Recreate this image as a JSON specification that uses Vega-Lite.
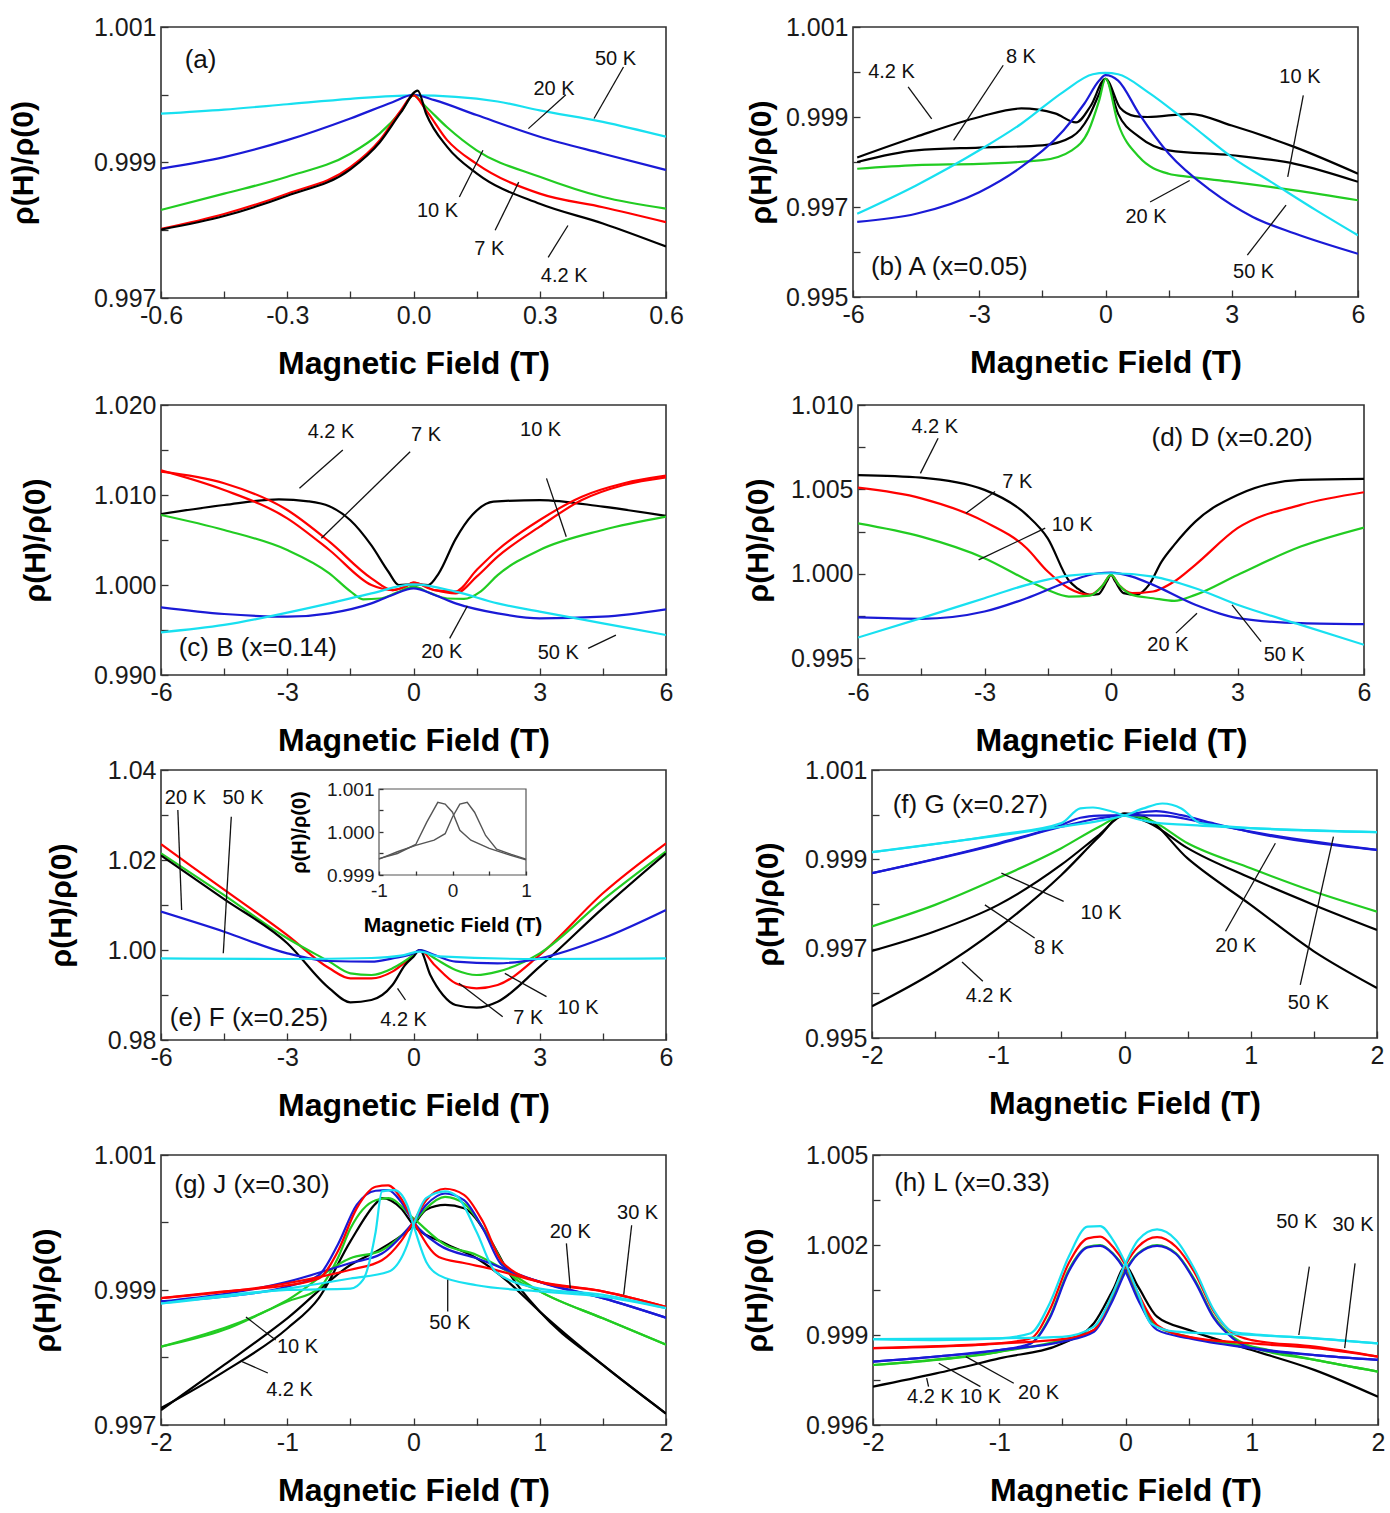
{
  "padding": {"left": 7, "top": 14, "right": 2, "bottom": 0},
  "config": {
    "font": "Liberation Sans",
    "view": {"stroke": "#333333", "strokeWidth": 1.6},
    "axis": {"grid": false, "domain": false, "tickSize": -7, "tickColor": "#333333", "tickWidth": 1.3, "labelFont": "Liberation Sans", "labelFontSize": 25, "labelColor": "#1a1a1a", "labelPadding": 12, "labelFlush": false, "labelOverlap": false, "labelBound": false, "titleFont": "Liberation Sans", "titleFontWeight": "bold", "titleColor": "#000000", "titlePadding": 0},
    "axisX": {"titleFontSize": 32, "minExtent": 50, "maxExtent": 50},
    "axisY": {"titleFontSize": 30},
    "line": {"strokeWidth": 2.2, "interpolate": "monotone"},
    "text": {"font": "Liberation Sans", "color": "#111111"}
  },
  "datasets": {
    "a_curves": [
      {"T":"50 K","H":-0.6,"rho":0.99972},{"T":"50 K","H":-0.45,"rho":0.99978},{"T":"50 K","H":-0.3,"rho":0.99986},{"T":"50 K","H":-0.15,"rho":0.99994},{"T":"50 K","H":0,"rho":0.99999},{"T":"50 K","H":0.1,"rho":0.99997},{"T":"50 K","H":0.2,"rho":0.9999},{"T":"50 K","H":0.3,"rho":0.99977},{"T":"50 K","H":0.45,"rho":0.9996},{"T":"50 K","H":0.6,"rho":0.99938},
      {"T":"20 K","H":-0.6,"rho":0.99891},{"T":"20 K","H":-0.45,"rho":0.99908},{"T":"20 K","H":-0.3,"rho":0.99933},{"T":"20 K","H":-0.15,"rho":0.99965},{"T":"20 K","H":-0.05,"rho":0.99989},{"T":"20 K","H":0,"rho":1.0},{"T":"20 K","H":0.05,"rho":0.99992},{"T":"20 K","H":0.15,"rho":0.9997},{"T":"20 K","H":0.3,"rho":0.99938},{"T":"20 K","H":0.45,"rho":0.99913},{"T":"20 K","H":0.6,"rho":0.99889},
      {"T":"10 K","H":-0.6,"rho":0.9983},{"T":"10 K","H":-0.45,"rho":0.99854},{"T":"10 K","H":-0.3,"rho":0.99879},{"T":"10 K","H":-0.15,"rho":0.99913},{"T":"10 K","H":-0.08,"rho":0.99943},{"T":"10 K","H":-0.03,"rho":0.99975},{"T":"10 K","H":0,"rho":0.99999},{"T":"10 K","H":0.03,"rho":0.99982},{"T":"10 K","H":0.08,"rho":0.99952},{"T":"10 K","H":0.15,"rho":0.99918},{"T":"10 K","H":0.3,"rho":0.99879},{"T":"10 K","H":0.45,"rho":0.99849},{"T":"10 K","H":0.6,"rho":0.99832},
      {"T":"7 K","H":-0.6,"rho":0.99802},{"T":"7 K","H":-0.45,"rho":0.99824},{"T":"7 K","H":-0.3,"rho":0.99854},{"T":"7 K","H":-0.15,"rho":0.99893},{"T":"7 K","H":-0.08,"rho":0.99933},{"T":"7 K","H":-0.03,"rho":0.99977},{"T":"7 K","H":0,"rho":0.99999},{"T":"7 K","H":0.03,"rho":0.99977},{"T":"7 K","H":0.08,"rho":0.99933},{"T":"7 K","H":0.15,"rho":0.99898},{"T":"7 K","H":0.3,"rho":0.99854},{"T":"7 K","H":0.45,"rho":0.99834},{"T":"7 K","H":0.6,"rho":0.99812},
      {"T":"4.2 K","H":-0.6,"rho":0.99801},{"T":"4.2 K","H":-0.45,"rho":0.99821},{"T":"4.2 K","H":-0.3,"rho":0.99851},{"T":"4.2 K","H":-0.15,"rho":0.9989},{"T":"4.2 K","H":-0.08,"rho":0.9993},{"T":"4.2 K","H":-0.03,"rho":0.99974},{"T":"4.2 K","H":0.01,"rho":1.00006},{"T":"4.2 K","H":0.03,"rho":0.99972},{"T":"4.2 K","H":0.08,"rho":0.99923},{"T":"4.2 K","H":0.15,"rho":0.99884},{"T":"4.2 K","H":0.3,"rho":0.99839},{"T":"4.2 K","H":0.45,"rho":0.9981},{"T":"4.2 K","H":0.6,"rho":0.99776}
    ],
    "a_labels": [
      {"label":"50 K","H":0.48,"rho":1.00053},{"label":"20 K","H":0.334,"rho":1.00009},{"label":"10 K","H":0.057,"rho":0.99828},{"label":"7 K","H":0.18,"rho":0.99773},{"label":"4.2 K","H":0.358,"rho":0.99733}
    ],
    "a_tag": [{"label":"(a)","H":-0.506,"rho":1.00051}],
    "a_leaders": [
      {"H":0.499,"rho":1.00041,"H2":0.429,"rho2":0.99965},{"H":0.362,"rho":1.0,"H2":0.273,"rho2":0.9995},{"H":0.109,"rho":0.99849,"H2":0.165,"rho2":0.99918},{"H":0.194,"rho":0.998,"H2":0.25,"rho2":0.99871},{"H":0.32,"rho":0.9976,"H2":0.367,"rho2":0.99807}
    ],
    "b_curves": [
      {"T":"4.2 K","H":-5.9,"rho":0.9981},{"T":"4.2 K","H":-4.5,"rho":0.99856},{"T":"4.2 K","H":-3,"rho":0.999},{"T":"4.2 K","H":-2,"rho":0.99919},{"T":"4.2 K","H":-1.2,"rho":0.99908},{"T":"4.2 K","H":-0.7,"rho":0.99888},{"T":"4.2 K","H":-0.35,"rho":0.99925},{"T":"4.2 K","H":0,"rho":0.99985},{"T":"4.2 K","H":0.35,"rho":0.9992},{"T":"4.2 K","H":0.7,"rho":0.99902},{"T":"4.2 K","H":1,"rho":0.999},{"T":"4.2 K","H":2,"rho":0.99907},{"T":"4.2 K","H":3,"rho":0.99881},{"T":"4.2 K","H":4.5,"rho":0.99833},{"T":"4.2 K","H":6,"rho":0.99774},
      {"T":"8 K","H":-5.9,"rho":0.998},{"T":"8 K","H":-4.5,"rho":0.99826},{"T":"8 K","H":-3,"rho":0.99832},{"T":"8 K","H":-1.5,"rho":0.99837},{"T":"8 K","H":-0.8,"rho":0.99856},{"T":"8 K","H":-0.4,"rho":0.999},{"T":"8 K","H":-0.15,"rho":0.99952},{"T":"8 K","H":0,"rho":0.99985},{"T":"8 K","H":0.3,"rho":0.99907},{"T":"8 K","H":0.8,"rho":0.99856},{"T":"8 K","H":1.5,"rho":0.99826},{"T":"8 K","H":3,"rho":0.99815},{"T":"8 K","H":4.5,"rho":0.99796},{"T":"8 K","H":6,"rho":0.99756},
      {"T":"10 K","H":-5.9,"rho":0.99785},{"T":"10 K","H":-4.5,"rho":0.99793},{"T":"10 K","H":-3,"rho":0.99796},{"T":"10 K","H":-1.5,"rho":0.99804},{"T":"10 K","H":-0.8,"rho":0.99826},{"T":"10 K","H":-0.4,"rho":0.9987},{"T":"10 K","H":-0.15,"rho":0.99937},{"T":"10 K","H":0,"rho":0.99985},{"T":"10 K","H":0.3,"rho":0.99885},{"T":"10 K","H":0.8,"rho":0.99811},{"T":"10 K","H":1.5,"rho":0.99774},{"T":"10 K","H":2,"rho":0.99767},{"T":"10 K","H":3,"rho":0.99756},{"T":"10 K","H":4.5,"rho":0.99737},{"T":"10 K","H":6,"rho":0.99715},
      {"T":"20 K","H":-5.9,"rho":0.99667},{"T":"20 K","H":-4.5,"rho":0.99685},{"T":"20 K","H":-3,"rho":0.99733},{"T":"20 K","H":-2,"rho":0.99789},{"T":"20 K","H":-1,"rho":0.9987},{"T":"20 K","H":-0.5,"rho":0.9993},{"T":"20 K","H":-0.15,"rho":0.99981},{"T":"20 K","H":0,"rho":0.99993},{"T":"20 K","H":0.3,"rho":0.99981},{"T":"20 K","H":0.8,"rho":0.99907},{"T":"20 K","H":1.5,"rho":0.99819},{"T":"20 K","H":2.5,"rho":0.99737},{"T":"20 K","H":3.5,"rho":0.99678},{"T":"20 K","H":4.5,"rho":0.99641},{"T":"20 K","H":6,"rho":0.99596},
      {"T":"50 K","H":-5.9,"rho":0.99685},{"T":"50 K","H":-4.5,"rho":0.99748},{"T":"50 K","H":-3,"rho":0.99826},{"T":"50 K","H":-2,"rho":0.99885},{"T":"50 K","H":-1,"rho":0.99956},{"T":"50 K","H":-0.3,"rho":0.99995},{"T":"50 K","H":0,"rho":0.99998},{"T":"50 K","H":0.3,"rho":0.99995},{"T":"50 K","H":1,"rho":0.99956},{"T":"50 K","H":2,"rho":0.99885},{"T":"50 K","H":3,"rho":0.99811},{"T":"50 K","H":4,"rho":0.99752},{"T":"50 K","H":5,"rho":0.99693},{"T":"50 K","H":6,"rho":0.99637}
    ],
    "b_labels": [
      {"label":"4.2 K","H":-5.085,"rho":1.0},{"label":"8 K","H":-2.01,"rho":1.00033},{"label":"10 K","H":4.62,"rho":0.99989},{"label":"20 K","H":0.964,"rho":0.99678},{"label":"50 K","H":3.52,"rho":0.99556}
    ],
    "b_tag": [{"label":"(b) A (x=0.05)","H":-3.71,"rho":0.99567}],
    "b_leaders": [
      {"H":-4.69,"rho":0.99967,"H2":-4.13,"rho2":0.99896},{"H":-2.43,"rho":1.00015,"H2":-3.61,"rho2":0.99848},{"H":4.7,"rho":0.99948,"H2":4.33,"rho2":0.99767},{"H":1.06,"rho":0.99711,"H2":2.0,"rho2":0.99759},{"H":3.37,"rho":0.99593,"H2":4.29,"rho2":0.99704}
    ],
    "c_curves": [
      {"T":"4.2 K","H":-6,"rho":1.00789},{"T":"4.2 K","H":-4.5,"rho":1.00889},{"T":"4.2 K","H":-3.2,"rho":1.00952},{"T":"4.2 K","H":-2.5,"rho":1.0093},{"T":"4.2 K","H":-2,"rho":1.00875},{"T":"4.2 K","H":-1.5,"rho":1.0072},{"T":"4.2 K","H":-1,"rho":1.0044},{"T":"4.2 K","H":-0.6,"rho":1.0015},{"T":"4.2 K","H":-0.35,"rho":1.0},{"T":"4.2 K","H":0,"rho":1.00007},{"T":"4.2 K","H":0.35,"rho":1.0},{"T":"4.2 K","H":0.6,"rho":1.0013},{"T":"4.2 K","H":1,"rho":1.0051},{"T":"4.2 K","H":1.4,"rho":1.0078},{"T":"4.2 K","H":1.9,"rho":1.00926},{"T":"4.2 K","H":3,"rho":1.00944},{"T":"4.2 K","H":4.5,"rho":1.0087},{"T":"4.2 K","H":6,"rho":1.00767},
      {"T":"7 K","sweep":1,"H":-6,"rho":1.01259},{"T":"7 K","sweep":1,"H":-4.5,"rho":1.0113},{"T":"7 K","sweep":1,"H":-3,"rho":1.00833},{"T":"7 K","sweep":1,"H":-2,"rho":1.00481},{"T":"7 K","sweep":1,"H":-1,"rho":1.00074},{"T":"7 K","sweep":1,"H":-0.5,"rho":0.99944},{"T":"7 K","sweep":1,"H":-0.2,"rho":0.99981},{"T":"7 K","sweep":1,"H":0,"rho":1.00026},{"T":"7 K","sweep":1,"H":0.5,"rho":0.99944},{"T":"7 K","sweep":1,"H":1,"rho":0.99907},{"T":"7 K","sweep":1,"H":1.5,"rho":1.00093},{"T":"7 K","sweep":1,"H":2,"rho":1.00315},{"T":"7 K","sweep":1,"H":3,"rho":1.00648},{"T":"7 K","sweep":1,"H":4,"rho":1.00944},{"T":"7 K","sweep":1,"H":5,"rho":1.01111},{"T":"7 K","sweep":1,"H":6,"rho":1.01196},
      {"T":"7 K","sweep":2,"H":-6,"rho":1.01275},{"T":"7 K","sweep":2,"H":-4.5,"rho":1.01056},{"T":"7 K","sweep":2,"H":-3,"rho":1.00741},{"T":"7 K","sweep":2,"H":-2,"rho":1.00389},{"T":"7 K","sweep":2,"H":-1,"rho":1.0},{"T":"7 K","sweep":2,"H":-0.5,"rho":0.99944},{"T":"7 K","sweep":2,"H":-0.2,"rho":0.99981},{"T":"7 K","sweep":2,"H":0,"rho":1.00026},{"T":"7 K","sweep":2,"H":0.5,"rho":0.99944},{"T":"7 K","sweep":2,"H":1,"rho":0.9993},{"T":"7 K","sweep":2,"H":1.5,"rho":1.00167},{"T":"7 K","sweep":2,"H":2,"rho":1.00389},{"T":"7 K","sweep":2,"H":3,"rho":1.00722},{"T":"7 K","sweep":2,"H":4,"rho":1.00981},{"T":"7 K","sweep":2,"H":5,"rho":1.0113},{"T":"7 K","sweep":2,"H":6,"rho":1.01215},
      {"T":"10 K","H":-6,"rho":1.00778},{"T":"10 K","H":-4.5,"rho":1.00611},{"T":"10 K","H":-3,"rho":1.00389},{"T":"10 K","H":-2,"rho":1.0013},{"T":"10 K","H":-1.5,"rho":0.9993},{"T":"10 K","H":-1.2,"rho":0.99841},{"T":"10 K","H":-0.8,"rho":0.9985},{"T":"10 K","H":-0.4,"rho":0.99915},{"T":"10 K","H":0,"rho":0.99981},{"T":"10 K","H":0.4,"rho":0.9991},{"T":"10 K","H":0.8,"rho":0.9985},{"T":"10 K","H":1.2,"rho":0.99845},{"T":"10 K","H":1.6,"rho":0.9993},{"T":"10 K","H":2,"rho":1.0011},{"T":"10 K","H":3,"rho":1.00389},{"T":"10 K","H":4.5,"rho":1.00611},{"T":"10 K","H":6,"rho":1.00759},
      {"T":"20 K","H":-6,"rho":0.99752},{"T":"20 K","H":-4.5,"rho":0.99678},{"T":"20 K","H":-3,"rho":0.99648},{"T":"20 K","H":-2,"rho":0.99685},{"T":"20 K","H":-1,"rho":0.99796},{"T":"20 K","H":-0.5,"rho":0.99889},{"T":"20 K","H":0,"rho":0.99963},{"T":"20 K","H":0.5,"rho":0.99889},{"T":"20 K","H":1,"rho":0.99796},{"T":"20 K","H":2,"rho":0.99685},{"T":"20 K","H":3,"rho":0.9963},{"T":"20 K","H":4.5,"rho":0.99648},{"T":"20 K","H":6,"rho":0.9973},
      {"T":"50 K","H":-6,"rho":0.99474},{"T":"50 K","H":-4.5,"rho":0.99556},{"T":"50 K","H":-3,"rho":0.99693},{"T":"50 K","H":-2,"rho":0.99796},{"T":"50 K","H":-1,"rho":0.99907},{"T":"50 K","H":0,"rho":1.00007},{"T":"50 K","H":1,"rho":0.99926},{"T":"50 K","H":2,"rho":0.99796},{"T":"50 K","H":3,"rho":0.99704},{"T":"50 K","H":4.5,"rho":0.99574},{"T":"50 K","H":6,"rho":0.99444}
    ],
    "c_labels": [
      {"label":"4.2 K","H":-1.96,"rho":1.01704},{"label":"7 K","H":0.3,"rho":1.01667},{"label":"10 K","H":3.02,"rho":1.01722},{"label":"20 K","H":0.672,"rho":0.99259},{"label":"50 K","H":3.44,"rho":0.99241}
    ],
    "c_tag": [{"label":"(c) B (x=0.14)","H":-3.7,"rho":0.99296}],
    "c_leaders": [
      {"H":-1.68,"rho":1.015,"H2":-2.71,"rho2":1.01074},{"H":-0.08,"rho":1.01481,"H2":-2.19,"rho2":1.00519},{"H":3.16,"rho":1.01185,"H2":3.63,"rho2":1.00537},{"H":1.28,"rho":0.99767,"H2":0.86,"rho2":0.99407},{"H":4.15,"rho":0.99296,"H2":4.81,"rho2":0.99444}
    ],
    "d_curves": [
      {"T":"4.2 K","H":-6,"rho":1.00585},{"T":"4.2 K","H":-4.5,"rho":1.0057},{"T":"4.2 K","H":-3,"rho":1.00497},{"T":"4.2 K","H":-2,"rho":1.00349},{"T":"4.2 K","H":-1.5,"rho":1.0021},{"T":"4.2 K","H":-1,"rho":0.9996},{"T":"4.2 K","H":-0.8,"rho":0.99914},{"T":"4.2 K","H":-0.5,"rho":0.99875},{"T":"4.2 K","H":-0.3,"rho":0.99879},{"T":"4.2 K","H":-0.1,"rho":0.99954},{"T":"4.2 K","H":0,"rho":0.99993},{"T":"4.2 K","H":0.1,"rho":0.99954},{"T":"4.2 K","H":0.3,"rho":0.99885},{"T":"4.2 K","H":0.6,"rho":0.99875},{"T":"4.2 K","H":0.9,"rho":0.99934},{"T":"4.2 K","H":1.2,"rho":1.00072},{"T":"4.2 K","H":1.5,"rho":1.00171},{"T":"4.2 K","H":2,"rho":1.00309},{"T":"4.2 K","H":3,"rho":1.00467},{"T":"4.2 K","H":4.5,"rho":1.00556},{"T":"4.2 K","H":6,"rho":1.00562},
      {"T":"7 K","H":-6,"rho":1.0051},{"T":"7 K","H":-4.5,"rho":1.00447},{"T":"7 K","H":-3,"rho":1.00309},{"T":"7 K","H":-2,"rho":1.00151},{"T":"7 K","H":-1.5,"rho":1.00013},{"T":"7 K","H":-1,"rho":0.99914},{"T":"7 K","H":-0.5,"rho":0.99875},{"T":"7 K","H":-0.2,"rho":0.9993},{"T":"7 K","H":0,"rho":0.99993},{"T":"7 K","H":0.2,"rho":0.9993},{"T":"7 K","H":0.5,"rho":0.99885},{"T":"7 K","H":1,"rho":0.99895},{"T":"7 K","H":1.5,"rho":0.99954},{"T":"7 K","H":2,"rho":1.00053},{"T":"7 K","H":3,"rho":1.0027},{"T":"7 K","H":4.5,"rho":1.00408},{"T":"7 K","H":6,"rho":1.00483},
      {"T":"10 K","H":-6,"rho":1.00299},{"T":"10 K","H":-4.5,"rho":1.0022},{"T":"10 K","H":-3,"rho":1.00092},{"T":"10 K","H":-2,"rho":0.99964},{"T":"10 K","H":-1.5,"rho":0.99904},{"T":"10 K","H":-1,"rho":0.99865},{"T":"10 K","H":-0.5,"rho":0.9987},{"T":"10 K","H":-0.2,"rho":0.9993},{"T":"10 K","H":0,"rho":0.99993},{"T":"10 K","H":0.2,"rho":0.9993},{"T":"10 K","H":0.5,"rho":0.99875},{"T":"10 K","H":1,"rho":0.99855},{"T":"10 K","H":1.5,"rho":0.99839},{"T":"10 K","H":2,"rho":0.99875},{"T":"10 K","H":3,"rho":0.99993},{"T":"10 K","H":4.5,"rho":1.00161},{"T":"10 K","H":6,"rho":1.00274},
      {"T":"20 K","H":-6,"rho":0.99741},{"T":"20 K","H":-4.5,"rho":0.99733},{"T":"20 K","H":-3,"rho":0.99776},{"T":"20 K","H":-2,"rho":0.99855},{"T":"20 K","H":-1,"rho":0.99954},{"T":"20 K","H":-0.3,"rho":1.00003},{"T":"20 K","H":0,"rho":1.00007},{"T":"20 K","H":0.5,"rho":0.99983},{"T":"20 K","H":1,"rho":0.99934},{"T":"20 K","H":2,"rho":0.99816},{"T":"20 K","H":3,"rho":0.99737},{"T":"20 K","H":4.5,"rho":0.99707},{"T":"20 K","H":6,"rho":0.99701},
      {"T":"50 K","H":-6,"rho":0.99622},{"T":"50 K","H":-4.5,"rho":0.99737},{"T":"50 K","H":-3,"rho":0.99855},{"T":"50 K","H":-2,"rho":0.99934},{"T":"50 K","H":-1,"rho":0.99989},{"T":"50 K","H":0,"rho":1.00003},{"T":"50 K","H":1,"rho":0.99983},{"T":"50 K","H":2,"rho":0.99914},{"T":"50 K","H":3,"rho":0.99816},{"T":"50 K","H":4.5,"rho":0.99697},{"T":"50 K","H":6,"rho":0.99579}
    ],
    "d_labels": [
      {"label":"4.2 K","H":-4.18,"rho":1.00872},{"label":"7 K","H":-2.22,"rho":1.00546},{"label":"10 K","H":-0.92,"rho":1.00289},{"label":"20 K","H":1.35,"rho":0.99579},{"label":"50 K","H":4.11,"rho":0.9952}
    ],
    "d_tag": [{"label":"(d) D (x=0.20)","H":2.87,"rho":1.00803}],
    "d_leaders": [
      {"H":-4.1,"rho":1.00803,"H2":-4.52,"rho2":1.00595},{"H":-2.75,"rho":1.00487,"H2":-3.44,"rho2":1.00358},{"H":-1.56,"rho":1.0027,"H2":-3.14,"rho2":1.00082},{"H":1.54,"rho":0.99648,"H2":2.04,"rho2":0.99766},{"H":3.56,"rho":0.99598,"H2":2.87,"rho2":0.99816}
    ],
    "e_curves": [
      {"T":"7 K","H":-6,"rho":1.0235},{"T":"7 K","H":-4.5,"rho":1.0134},{"T":"7 K","H":-3,"rho":1.0033},{"T":"7 K","H":-2,"rho":0.99593},{"T":"7 K","H":-1.5,"rho":0.9937},{"T":"7 K","H":-1,"rho":0.9937},{"T":"7 K","H":-0.5,"rho":0.99519},{"T":"7 K","H":0,"rho":0.99889},{"T":"7 K","H":0.15,"rho":1.0},{"T":"7 K","H":0.5,"rho":0.99667},{"T":"7 K","H":1,"rho":0.99259},{"T":"7 K","H":1.5,"rho":0.99148},{"T":"7 K","H":2,"rho":0.99222},{"T":"7 K","H":3,"rho":0.99889},{"T":"7 K","H":4.5,"rho":1.0126},{"T":"7 K","H":6,"rho":1.0237},
      {"T":"10 K","H":-6,"rho":1.0215},{"T":"10 K","H":-4.5,"rho":1.0122},{"T":"10 K","H":-3,"rho":1.0026},{"T":"10 K","H":-2,"rho":0.99741},{"T":"10 K","H":-1.5,"rho":0.99482},{"T":"10 K","H":-1,"rho":0.99444},{"T":"10 K","H":-0.5,"rho":0.99593},{"T":"10 K","H":0,"rho":0.99889},{"T":"10 K","H":0.15,"rho":1.0},{"T":"10 K","H":0.5,"rho":0.99815},{"T":"10 K","H":1,"rho":0.99556},{"T":"10 K","H":1.5,"rho":0.99444},{"T":"10 K","H":2,"rho":0.99519},{"T":"10 K","H":3,"rho":0.99926},{"T":"10 K","H":4.5,"rho":1.0111},{"T":"10 K","H":6,"rho":1.0219},
      {"T":"4.2 K","H":-6,"rho":1.021},{"T":"4.2 K","H":-4.5,"rho":1.0113},{"T":"4.2 K","H":-3,"rho":1.0015},{"T":"4.2 K","H":-2,"rho":0.99148},{"T":"4.2 K","H":-1.5,"rho":0.98837},{"T":"4.2 K","H":-1,"rho":0.98889},{"T":"4.2 K","H":-0.5,"rho":0.99222},{"T":"4.2 K","H":-0.2,"rho":0.99667},{"T":"4.2 K","H":0,"rho":0.99852},{"T":"4.2 K","H":0.15,"rho":1.0},{"T":"4.2 K","H":0.4,"rho":0.99444},{"T":"4.2 K","H":0.7,"rho":0.99},{"T":"4.2 K","H":1,"rho":0.98778},{"T":"4.2 K","H":1.5,"rho":0.98719},{"T":"4.2 K","H":2,"rho":0.98852},{"T":"4.2 K","H":3,"rho":0.9963},{"T":"4.2 K","H":4.5,"rho":1.0093},{"T":"4.2 K","H":6,"rho":1.0215},
      {"T":"20 K","H":-6,"rho":1.00852},{"T":"20 K","H":-4.5,"rho":1.00407},{"T":"20 K","H":-3,"rho":0.99926},{"T":"20 K","H":-2,"rho":0.99756},{"T":"20 K","H":-1,"rho":0.99741},{"T":"20 K","H":-0.5,"rho":0.99815},{"T":"20 K","H":0,"rho":0.99926},{"T":"20 K","H":0.15,"rho":1.0},{"T":"20 K","H":0.5,"rho":0.99889},{"T":"20 K","H":1,"rho":0.99741},{"T":"20 K","H":2,"rho":0.99704},{"T":"20 K","H":3,"rho":0.99815},{"T":"20 K","H":4.5,"rho":1.0026},{"T":"20 K","H":6,"rho":1.00889},
      {"T":"50 K","H":-6,"rho":0.99815},{"T":"50 K","H":-3,"rho":0.998},{"T":"50 K","H":-1,"rho":0.99822},{"T":"50 K","H":-0.3,"rho":0.99874},{"T":"50 K","H":0.15,"rho":0.99963},{"T":"50 K","H":0.6,"rho":0.99859},{"T":"50 K","H":3,"rho":0.998},{"T":"50 K","H":6,"rho":0.99815}
    ],
    "e_labels": [
      {"label":"20 K","H":-5.42,"rho":1.0337},{"label":"50 K","H":-4.05,"rho":1.0337},{"label":"4.2 K","H":-0.236,"rho":0.98444},{"label":"7 K","H":2.73,"rho":0.98481},{"label":"10 K","H":3.91,"rho":0.98704}
    ],
    "e_tag": [{"label":"(e) F (x=0.25)","H":-3.91,"rho":0.98481}],
    "e_leaders": [
      {"H":-5.6,"rho":1.03111,"H2":-5.51,"rho2":1.00889},{"H":-4.33,"rho":1.02963,"H2":-4.52,"rho2":0.99926},{"H":-0.19,"rho":0.98889,"H2":-0.38,"rho2":0.99148},{"H":2.12,"rho":0.98519,"H2":1.08,"rho2":0.99259},{"H":3.16,"rho":0.98963,"H2":2.17,"rho2":0.99481}
    ],
    "e_inset": [
      {"sweep":1,"H":-1,"rho":0.99938},{"sweep":1,"H":-0.75,"rho":0.9995},{"sweep":1,"H":-0.5,"rho":0.99971},{"sweep":1,"H":-0.35,"rho":1.00023},{"sweep":1,"H":-0.2,"rho":1.00069},{"sweep":1,"H":-0.1,"rho":1.00065},{"sweep":1,"H":0,"rho":1.00046},{"sweep":1,"H":0.1,"rho":1.00004},{"sweep":1,"H":0.25,"rho":0.99981},{"sweep":1,"H":0.5,"rho":0.99962},{"sweep":1,"H":0.75,"rho":0.99948},{"sweep":1,"H":1,"rho":0.99935},
      {"sweep":2,"H":-1,"rho":0.99937},{"sweep":2,"H":-0.75,"rho":0.99954},{"sweep":2,"H":-0.5,"rho":0.99969},{"sweep":2,"H":-0.25,"rho":0.99981},{"sweep":2,"H":-0.1,"rho":0.99996},{"sweep":2,"H":0,"rho":1.00035},{"sweep":2,"H":0.1,"rho":1.00065},{"sweep":2,"H":0.2,"rho":1.00069},{"sweep":2,"H":0.3,"rho":1.00046},{"sweep":2,"H":0.45,"rho":0.99992},{"sweep":2,"H":0.6,"rho":0.9996},{"sweep":2,"H":0.8,"rho":0.99948},{"sweep":2,"H":1,"rho":0.99937}
    ],
    "e_inset_box": [{"H":-1,"H2":1,"rho":0.999,"rho2":1.001}],
    "f_curves": [
      {"T":"4.2 K","H":-2,"rho":0.99571},{"T":"4.2 K","H":-1.5,"rho":0.99649},{"T":"4.2 K","H":-1,"rho":0.99746},{"T":"4.2 K","H":-0.5,"rho":0.99865},{"T":"4.2 K","H":-0.2,"rho":0.99951},{"T":"4.2 K","H":0,"rho":1.00003},{"T":"4.2 K","H":0.15,"rho":0.99996},{"T":"4.2 K","H":0.5,"rho":0.99902},{"T":"4.2 K","H":1,"rho":0.99798},{"T":"4.2 K","H":1.5,"rho":0.99694},{"T":"4.2 K","H":2,"rho":0.99612},
      {"T":"8 K","H":-2,"rho":0.99695},{"T":"8 K","H":-1.5,"rho":0.99739},{"T":"8 K","H":-1,"rho":0.99798},{"T":"8 K","H":-0.5,"rho":0.99888},{"T":"8 K","H":-0.2,"rho":0.99955},{"T":"8 K","H":0,"rho":0.99999},{"T":"8 K","H":0.2,"rho":0.99981},{"T":"8 K","H":0.5,"rho":0.99925},{"T":"8 K","H":1,"rho":0.99858},{"T":"8 K","H":1.5,"rho":0.99798},{"T":"8 K","H":2,"rho":0.99742},
      {"T":"10 K","H":-2,"rho":0.9975},{"T":"10 K","H":-1.5,"rho":0.99798},{"T":"10 K","H":-1,"rho":0.99858},{"T":"10 K","H":-0.5,"rho":0.99925},{"T":"10 K","H":-0.2,"rho":0.99973},{"T":"10 K","H":0,"rho":0.99999},{"T":"10 K","H":0.2,"rho":0.99988},{"T":"10 K","H":0.5,"rho":0.99936},{"T":"10 K","H":1,"rho":0.9988},{"T":"10 K","H":1.5,"rho":0.99828},{"T":"10 K","H":2,"rho":0.99783},
      {"T":"20 K","sweep":1,"H":-2,"rho":0.99869},{"T":"20 K","sweep":1,"H":-1,"rho":0.99936},{"T":"20 K","sweep":1,"H":-0.5,"rho":0.99977},{"T":"20 K","sweep":1,"H":-0.35,"rho":0.99993},{"T":"20 K","sweep":1,"H":-0.2,"rho":0.99998},{"T":"20 K","sweep":1,"H":0,"rho":0.99999},{"T":"20 K","sweep":1,"H":0.3,"rho":0.99998},{"T":"20 K","sweep":1,"H":0.6,"rho":0.99984},{"T":"20 K","sweep":1,"H":1,"rho":0.99962},{"T":"20 K","sweep":1,"H":2,"rho":0.99921},
      {"T":"20 K","sweep":2,"H":-2,"rho":0.99869},{"T":"20 K","sweep":2,"H":-1,"rho":0.99934},{"T":"20 K","sweep":2,"H":-0.5,"rho":0.99973},{"T":"20 K","sweep":2,"H":-0.2,"rho":0.99992},{"T":"20 K","sweep":2,"H":0,"rho":0.99999},{"T":"20 K","sweep":2,"H":0.25,"rho":1.00008},{"T":"20 K","sweep":2,"H":0.45,"rho":0.99999},{"T":"20 K","sweep":2,"H":0.7,"rho":0.99981},{"T":"20 K","sweep":2,"H":1,"rho":0.99961},{"T":"20 K","sweep":2,"H":2,"rho":0.99921},
      {"T":"50 K","sweep":1,"H":-2,"rho":0.99916},{"T":"50 K","sweep":1,"H":-1,"rho":0.99955},{"T":"50 K","sweep":1,"H":-0.5,"rho":0.99981},{"T":"50 K","sweep":1,"H":-0.35,"rho":1.00014},{"T":"50 K","sweep":1,"H":-0.25,"rho":1.00016},{"T":"50 K","sweep":1,"H":-0.1,"rho":1.00007},{"T":"50 K","sweep":1,"H":0,"rho":0.99998},{"T":"50 K","sweep":1,"H":0.2,"rho":0.99984},{"T":"50 K","sweep":1,"H":0.5,"rho":0.99977},{"T":"50 K","sweep":1,"H":1,"rho":0.9997},{"T":"50 K","sweep":1,"H":2,"rho":0.99961},
      {"T":"50 K","sweep":2,"H":-2,"rho":0.99916},{"T":"50 K","sweep":2,"H":-1,"rho":0.99953},{"T":"50 K","sweep":2,"H":-0.5,"rho":0.99973},{"T":"50 K","sweep":2,"H":-0.2,"rho":0.99986},{"T":"50 K","sweep":2,"H":0,"rho":0.99998},{"T":"50 K","sweep":2,"H":0.15,"rho":1.00014},{"T":"50 K","sweep":2,"H":0.3,"rho":1.00025},{"T":"50 K","sweep":2,"H":0.45,"rho":1.00014},{"T":"50 K","sweep":2,"H":0.6,"rho":0.99981},{"T":"50 K","sweep":2,"H":1,"rho":0.9997},{"T":"50 K","sweep":2,"H":2,"rho":0.99961}
    ],
    "f_labels": [
      {"label":"10 K","H":-0.186,"rho":0.9978},{"label":"8 K","H":-0.597,"rho":0.99701},{"label":"4.2 K","H":-1.073,"rho":0.99593},{"label":"20 K","H":0.882,"rho":0.99705},{"label":"50 K","H":1.457,"rho":0.99578}
    ],
    "f_tag": [{"label":"(f) G (x=0.27)","H":-1.221,"rho":1.00022}],
    "f_leaders": [
      {"H":-0.482,"rho":0.99806,"H2":-0.975,"rho2":0.99869},{"H":-0.712,"rho":0.99724,"H2":-1.106,"rho2":0.99798},{"H":-1.122,"rho":0.99627,"H2":-1.287,"rho2":0.9967},{"H":0.8,"rho":0.99739,"H2":1.195,"rho2":0.99936},{"H":1.392,"rho":0.99619,"H2":1.655,"rho2":0.99951}
    ],
    "g_curves": [
      {"T":"4.2 K","sweep":1,"H":-2,"rho":0.99725},{"T":"4.2 K","sweep":1,"H":-1.5,"rho":0.99779},{"T":"4.2 K","sweep":1,"H":-1,"rho":0.99843},{"T":"4.2 K","sweep":1,"H":-0.75,"rho":0.99888},{"T":"4.2 K","sweep":1,"H":-0.5,"rho":0.99972},{"T":"4.2 K","sweep":1,"H":-0.3,"rho":1.00028},{"T":"4.2 K","sweep":1,"H":-0.25,"rho":1.00036},{"T":"4.2 K","sweep":1,"H":-0.1,"rho":1.00021},{"T":"4.2 K","sweep":1,"H":0,"rho":0.99996},{"T":"4.2 K","sweep":1,"H":0.25,"rho":0.99969},{"T":"4.2 K","sweep":1,"H":0.5,"rho":0.99947},{"T":"4.2 K","sweep":1,"H":0.75,"rho":0.99912},{"T":"4.2 K","sweep":1,"H":1,"rho":0.99868},{"T":"4.2 K","sweep":1,"H":1.5,"rho":0.99789},{"T":"4.2 K","sweep":1,"H":2,"rho":0.99717},
      {"T":"4.2 K","sweep":2,"H":-2,"rho":0.99722},{"T":"4.2 K","sweep":2,"H":-1.5,"rho":0.99789},{"T":"4.2 K","sweep":2,"H":-1,"rho":0.99858},{"T":"4.2 K","sweep":2,"H":-0.5,"rho":0.99937},{"T":"4.2 K","sweep":2,"H":-0.25,"rho":0.99962},{"T":"4.2 K","sweep":2,"H":0,"rho":0.99996},{"T":"4.2 K","sweep":2,"H":0.1,"rho":1.00019},{"T":"4.2 K","sweep":2,"H":0.25,"rho":1.00026},{"T":"4.2 K","sweep":2,"H":0.4,"rho":1.00021},{"T":"4.2 K","sweep":2,"H":0.6,"rho":0.99977},{"T":"4.2 K","sweep":2,"H":0.75,"rho":0.99927},{"T":"4.2 K","sweep":2,"H":1,"rho":0.99868},{"T":"4.2 K","sweep":2,"H":1.5,"rho":0.99789},{"T":"4.2 K","sweep":2,"H":2,"rho":0.99717},
      {"T":"10 K","sweep":1,"H":-2,"rho":0.99816},{"T":"10 K","sweep":1,"H":-1.5,"rho":0.99841},{"T":"10 K","sweep":1,"H":-1,"rho":0.99883},{"T":"10 K","sweep":1,"H":-0.75,"rho":0.99902},{"T":"10 K","sweep":1,"H":-0.6,"rho":0.99947},{"T":"10 K","sweep":1,"H":-0.5,"rho":0.99991},{"T":"10 K","sweep":1,"H":-0.3,"rho":1.00033},{"T":"10 K","sweep":1,"H":-0.2,"rho":1.00036},{"T":"10 K","sweep":1,"H":0,"rho":1.00006},{"T":"10 K","sweep":1,"H":0.25,"rho":0.99967},{"T":"10 K","sweep":1,"H":0.5,"rho":0.99952},{"T":"10 K","sweep":1,"H":0.75,"rho":0.99927},{"T":"10 K","sweep":1,"H":1,"rho":0.99898},{"T":"10 K","sweep":1,"H":1.5,"rho":0.99858},{"T":"10 K","sweep":1,"H":2,"rho":0.99819},
      {"T":"10 K","sweep":2,"H":-2,"rho":0.99816},{"T":"10 K","sweep":2,"H":-1,"rho":0.99885},{"T":"10 K","sweep":2,"H":-0.5,"rho":0.99947},{"T":"10 K","sweep":2,"H":-0.25,"rho":0.99959},{"T":"10 K","sweep":2,"H":0,"rho":0.99999},{"T":"10 K","sweep":2,"H":0.1,"rho":1.00021},{"T":"10 K","sweep":2,"H":0.25,"rho":1.00038},{"T":"10 K","sweep":2,"H":0.4,"rho":1.00028},{"T":"10 K","sweep":2,"H":0.6,"rho":0.99977},{"T":"10 K","sweep":2,"H":0.75,"rho":0.99927},{"T":"10 K","sweep":2,"H":1,"rho":0.99898},{"T":"10 K","sweep":2,"H":1.5,"rho":0.99858},{"T":"10 K","sweep":2,"H":2,"rho":0.99819},
      {"T":"20 K","sweep":1,"H":-2,"rho":0.99883},{"T":"20 K","sweep":1,"H":-1.5,"rho":0.9989},{"T":"20 K","sweep":1,"H":-1,"rho":0.99905},{"T":"20 K","sweep":1,"H":-0.75,"rho":0.99922},{"T":"20 K","sweep":1,"H":-0.6,"rho":0.99967},{"T":"20 K","sweep":1,"H":-0.45,"rho":1.00026},{"T":"20 K","sweep":1,"H":-0.3,"rho":1.00047},{"T":"20 K","sweep":1,"H":-0.2,"rho":1.00048},{"T":"20 K","sweep":1,"H":-0.1,"rho":1.00031},{"T":"20 K","sweep":1,"H":0,"rho":1.00001},{"T":"20 K","sweep":1,"H":0.2,"rho":0.99967},{"T":"20 K","sweep":1,"H":0.5,"rho":0.99947},{"T":"20 K","sweep":1,"H":1,"rho":0.99912},{"T":"20 K","sweep":1,"H":1.5,"rho":0.99888},{"T":"20 K","sweep":1,"H":2,"rho":0.99859},
      {"T":"20 K","sweep":2,"H":-2,"rho":0.99883},{"T":"20 K","sweep":2,"H":-1,"rho":0.99912},{"T":"20 K","sweep":2,"H":-0.5,"rho":0.9994},{"T":"20 K","sweep":2,"H":-0.25,"rho":0.99954},{"T":"20 K","sweep":2,"H":0,"rho":1.00001},{"T":"20 K","sweep":2,"H":0.1,"rho":1.00026},{"T":"20 K","sweep":2,"H":0.25,"rho":1.00043},{"T":"20 K","sweep":2,"H":0.4,"rho":1.00033},{"T":"20 K","sweep":2,"H":0.55,"rho":0.99991},{"T":"20 K","sweep":2,"H":0.7,"rho":0.99937},{"T":"20 K","sweep":2,"H":1,"rho":0.99912},{"T":"20 K","sweep":2,"H":1.5,"rho":0.99888},{"T":"20 K","sweep":2,"H":2,"rho":0.99859},
      {"T":"30 K","sweep":1,"H":-2,"rho":0.99888},{"T":"30 K","sweep":1,"H":-1.5,"rho":0.99898},{"T":"30 K","sweep":1,"H":-1,"rho":0.99907},{"T":"30 K","sweep":1,"H":-0.75,"rho":0.99917},{"T":"30 K","sweep":1,"H":-0.6,"rho":0.99957},{"T":"30 K","sweep":1,"H":-0.45,"rho":1.00021},{"T":"30 K","sweep":1,"H":-0.3,"rho":1.00053},{"T":"30 K","sweep":1,"H":-0.2,"rho":1.00055},{"T":"30 K","sweep":1,"H":-0.1,"rho":1.00036},{"T":"30 K","sweep":1,"H":0,"rho":1.00001},{"T":"30 K","sweep":1,"H":0.2,"rho":0.99949},{"T":"30 K","sweep":1,"H":0.4,"rho":0.9994},{"T":"30 K","sweep":1,"H":0.6,"rho":0.99932},{"T":"30 K","sweep":1,"H":1,"rho":0.99912},{"T":"30 K","sweep":1,"H":1.5,"rho":0.99898},{"T":"30 K","sweep":1,"H":2,"rho":0.99875},
      {"T":"30 K","sweep":2,"H":-2,"rho":0.99888},{"T":"30 K","sweep":2,"H":-1,"rho":0.9991},{"T":"30 K","sweep":2,"H":-0.5,"rho":0.9993},{"T":"30 K","sweep":2,"H":-0.25,"rho":0.99944},{"T":"30 K","sweep":2,"H":-0.1,"rho":0.99972},{"T":"30 K","sweep":2,"H":0,"rho":1.00001},{"T":"30 K","sweep":2,"H":0.1,"rho":1.00033},{"T":"30 K","sweep":2,"H":0.25,"rho":1.0005},{"T":"30 K","sweep":2,"H":0.4,"rho":1.00041},{"T":"30 K","sweep":2,"H":0.55,"rho":1.00001},{"T":"30 K","sweep":2,"H":0.7,"rho":0.99942},{"T":"30 K","sweep":2,"H":1,"rho":0.99912},{"T":"30 K","sweep":2,"H":1.5,"rho":0.99898},{"T":"30 K","sweep":2,"H":2,"rho":0.99875},
      {"T":"50 K","sweep":1,"H":-2,"rho":0.9988},{"T":"50 K","sweep":1,"H":-1,"rho":0.999},{"T":"50 K","sweep":1,"H":-0.5,"rho":0.99902},{"T":"50 K","sweep":1,"H":-0.4,"rho":0.99915},{"T":"50 K","sweep":1,"H":-0.3,"rho":0.99986},{"T":"50 K","sweep":1,"H":-0.25,"rho":1.00046},{"T":"50 K","sweep":1,"H":-0.15,"rho":1.00048},{"T":"50 K","sweep":1,"H":-0.05,"rho":1.00026},{"T":"50 K","sweep":1,"H":0,"rho":0.99996},{"T":"50 K","sweep":1,"H":0.1,"rho":0.99942},{"T":"50 K","sweep":1,"H":0.2,"rho":0.99922},{"T":"50 K","sweep":1,"H":0.5,"rho":0.99907},{"T":"50 K","sweep":1,"H":1,"rho":0.99898},{"T":"50 K","sweep":1,"H":1.5,"rho":0.9989},{"T":"50 K","sweep":1,"H":2,"rho":0.99873},
      {"T":"50 K","sweep":2,"H":-2,"rho":0.9988},{"T":"50 K","sweep":2,"H":-1,"rho":0.99902},{"T":"50 K","sweep":2,"H":-0.5,"rho":0.99917},{"T":"50 K","sweep":2,"H":-0.2,"rho":0.99927},{"T":"50 K","sweep":2,"H":-0.05,"rho":0.99967},{"T":"50 K","sweep":2,"H":0,"rho":0.99996},{"T":"50 K","sweep":2,"H":0.1,"rho":1.00036},{"T":"50 K","sweep":2,"H":0.25,"rho":1.00046},{"T":"50 K","sweep":2,"H":0.35,"rho":1.00038},{"T":"50 K","sweep":2,"H":0.5,"rho":0.99986},{"T":"50 K","sweep":2,"H":0.65,"rho":0.99927},{"T":"50 K","sweep":2,"H":1,"rho":0.99902},{"T":"50 K","sweep":2,"H":1.5,"rho":0.99893},{"T":"50 K","sweep":2,"H":2,"rho":0.99873}
    ],
    "g_labels": [
      {"label":"30 K","H":1.775,"rho":1.00014},{"label":"20 K","H":1.242,"rho":0.99986},{"label":"50 K","H":0.287,"rho":0.99851},{"label":"10 K","H":-0.919,"rho":0.99816},{"label":"4.2 K","H":-0.982,"rho":0.99752}
    ],
    "g_tag": [{"label":"(g) J (x=0.30)","H":-1.28,"rho":1.00056}],
    "g_leaders": [
      {"H":1.728,"rho":0.99996,"H2":1.665,"rho2":0.99893},{"H":1.211,"rho":0.99969,"H2":1.242,"rho2":0.99902},{"H":0.271,"rho":0.99868,"H2":0.271,"rho2":0.99915},{"H":-1.092,"rho":0.99826,"H2":-1.327,"rho2":0.9986},{"H":-1.154,"rho":0.99777,"H2":-1.358,"rho2":0.99794}
    ],
    "h_curves": [
      {"T":"4.2 K","H":-2,"rho":0.99728},{"T":"4.2 K","H":-1.5,"rho":0.99772},{"T":"4.2 K","H":-1,"rho":0.99822},{"T":"4.2 K","H":-0.5,"rho":0.99872},{"T":"4.2 K","H":-0.25,"rho":0.99939},{"T":"4.2 K","H":-0.1,"rho":1.0005},{"T":"4.2 K","H":0,"rho":1.00128},{"T":"4.2 K","H":0.1,"rho":1.00061},{"T":"4.2 K","H":0.25,"rho":0.99961},{"T":"4.2 K","H":0.5,"rho":0.99917},{"T":"4.2 K","H":1,"rho":0.9985},{"T":"4.2 K","H":1.5,"rho":0.99783},{"T":"4.2 K","H":2,"rho":0.99694},
      {"T":"10 K","sweep":1,"H":-2,"rho":0.998},{"T":"10 K","sweep":1,"H":-1.5,"rho":0.99817},{"T":"10 K","sweep":1,"H":-1,"rho":0.99844},{"T":"10 K","sweep":1,"H":-0.75,"rho":0.99872},{"T":"10 K","sweep":1,"H":-0.6,"rho":0.99961},{"T":"10 K","sweep":1,"H":-0.45,"rho":1.00117},{"T":"10 K","sweep":1,"H":-0.3,"rho":1.00194},{"T":"10 K","sweep":1,"H":-0.2,"rho":1.002},{"T":"10 K","sweep":1,"H":-0.1,"rho":1.00172},{"T":"10 K","sweep":1,"H":0,"rho":1.00117},{"T":"10 K","sweep":1,"H":0.1,"rho":1.00028},{"T":"10 K","sweep":1,"H":0.25,"rho":0.99928},{"T":"10 K","sweep":1,"H":0.5,"rho":0.99894},{"T":"10 K","sweep":1,"H":1,"rho":0.99861},{"T":"10 K","sweep":1,"H":1.5,"rho":0.99817},{"T":"10 K","sweep":1,"H":2,"rho":0.99778},
      {"T":"10 K","sweep":2,"H":-2,"rho":0.998},{"T":"10 K","sweep":2,"H":-1,"rho":0.99844},{"T":"10 K","sweep":2,"H":-0.5,"rho":0.99883},{"T":"10 K","sweep":2,"H":-0.25,"rho":0.99917},{"T":"10 K","sweep":2,"H":-0.1,"rho":1.00028},{"T":"10 K","sweep":2,"H":0,"rho":1.00117},{"T":"10 K","sweep":2,"H":0.1,"rho":1.00172},{"T":"10 K","sweep":2,"H":0.25,"rho":1.002},{"T":"10 K","sweep":2,"H":0.4,"rho":1.00172},{"T":"10 K","sweep":2,"H":0.55,"rho":1.00083},{"T":"10 K","sweep":2,"H":0.7,"rho":0.99961},{"T":"10 K","sweep":2,"H":0.85,"rho":0.99894},{"T":"10 K","sweep":2,"H":1,"rho":0.99861},{"T":"10 K","sweep":2,"H":1.5,"rho":0.99817},{"T":"10 K","sweep":2,"H":2,"rho":0.99778},
      {"T":"20 K","sweep":1,"H":-2,"rho":0.99811},{"T":"20 K","sweep":1,"H":-1.5,"rho":0.99828},{"T":"20 K","sweep":1,"H":-1,"rho":0.9985},{"T":"20 K","sweep":1,"H":-0.75,"rho":0.99872},{"T":"20 K","sweep":1,"H":-0.6,"rho":0.99956},{"T":"20 K","sweep":1,"H":-0.45,"rho":1.00111},{"T":"20 K","sweep":1,"H":-0.3,"rho":1.00192},{"T":"20 K","sweep":1,"H":-0.2,"rho":1.00197},{"T":"20 K","sweep":1,"H":-0.1,"rho":1.0017},{"T":"20 K","sweep":1,"H":0,"rho":1.00111},{"T":"20 K","sweep":1,"H":0.1,"rho":1.00017},{"T":"20 K","sweep":1,"H":0.25,"rho":0.99917},{"T":"20 K","sweep":1,"H":0.5,"rho":0.99889},{"T":"20 K","sweep":1,"H":1,"rho":0.99856},{"T":"20 K","sweep":1,"H":1.5,"rho":0.99833},{"T":"20 K","sweep":1,"H":2,"rho":0.99817},
      {"T":"20 K","sweep":2,"H":-2,"rho":0.99811},{"T":"20 K","sweep":2,"H":-1,"rho":0.9985},{"T":"20 K","sweep":2,"H":-0.5,"rho":0.99878},{"T":"20 K","sweep":2,"H":-0.25,"rho":0.99911},{"T":"20 K","sweep":2,"H":-0.1,"rho":1.00017},{"T":"20 K","sweep":2,"H":0,"rho":1.00111},{"T":"20 K","sweep":2,"H":0.1,"rho":1.0017},{"T":"20 K","sweep":2,"H":0.25,"rho":1.00197},{"T":"20 K","sweep":2,"H":0.4,"rho":1.0017},{"T":"20 K","sweep":2,"H":0.55,"rho":1.00078},{"T":"20 K","sweep":2,"H":0.7,"rho":0.99956},{"T":"20 K","sweep":2,"H":0.85,"rho":0.99889},{"T":"20 K","sweep":2,"H":1,"rho":0.99856},{"T":"20 K","sweep":2,"H":1.5,"rho":0.99833},{"T":"20 K","sweep":2,"H":2,"rho":0.99817},
      {"T":"30 K","sweep":1,"H":-2,"rho":0.99856},{"T":"30 K","sweep":1,"H":-1.5,"rho":0.99861},{"T":"30 K","sweep":1,"H":-1,"rho":0.99872},{"T":"30 K","sweep":1,"H":-0.75,"rho":0.99889},{"T":"30 K","sweep":1,"H":-0.6,"rho":0.99983},{"T":"30 K","sweep":1,"H":-0.45,"rho":1.00139},{"T":"30 K","sweep":1,"H":-0.3,"rho":1.00222},{"T":"30 K","sweep":1,"H":-0.2,"rho":1.00228},{"T":"30 K","sweep":1,"H":-0.1,"rho":1.00194},{"T":"30 K","sweep":1,"H":0,"rho":1.00133},{"T":"30 K","sweep":1,"H":0.1,"rho":1.00039},{"T":"30 K","sweep":1,"H":0.25,"rho":0.99933},{"T":"30 K","sweep":1,"H":0.5,"rho":0.99894},{"T":"30 K","sweep":1,"H":1,"rho":0.99872},{"T":"30 K","sweep":1,"H":1.5,"rho":0.99856},{"T":"30 K","sweep":1,"H":2,"rho":0.99828},
      {"T":"30 K","sweep":2,"H":-2,"rho":0.99856},{"T":"30 K","sweep":2,"H":-1,"rho":0.99872},{"T":"30 K","sweep":2,"H":-0.5,"rho":0.99886},{"T":"30 K","sweep":2,"H":-0.25,"rho":0.99917},{"T":"30 K","sweep":2,"H":-0.1,"rho":1.00039},{"T":"30 K","sweep":2,"H":0,"rho":1.00133},{"T":"30 K","sweep":2,"H":0.1,"rho":1.00194},{"T":"30 K","sweep":2,"H":0.25,"rho":1.00226},{"T":"30 K","sweep":2,"H":0.4,"rho":1.00194},{"T":"30 K","sweep":2,"H":0.55,"rho":1.00106},{"T":"30 K","sweep":2,"H":0.7,"rho":0.99978},{"T":"30 K","sweep":2,"H":0.85,"rho":0.99906},{"T":"30 K","sweep":2,"H":1,"rho":0.99883},{"T":"30 K","sweep":2,"H":1.5,"rho":0.99861},{"T":"30 K","sweep":2,"H":2,"rho":0.99828},
      {"T":"50 K","sweep":1,"H":-2,"rho":0.99886},{"T":"50 K","sweep":1,"H":-1.5,"rho":0.99883},{"T":"50 K","sweep":1,"H":-1,"rho":0.99889},{"T":"50 K","sweep":1,"H":-0.75,"rho":0.99906},{"T":"50 K","sweep":1,"H":-0.6,"rho":1.00006},{"T":"50 K","sweep":1,"H":-0.45,"rho":1.00161},{"T":"50 K","sweep":1,"H":-0.3,"rho":1.00261},{"T":"50 K","sweep":1,"H":-0.2,"rho":1.00263},{"T":"50 K","sweep":1,"H":-0.1,"rho":1.00217},{"T":"50 K","sweep":1,"H":0,"rho":1.00139},{"T":"50 K","sweep":1,"H":0.1,"rho":1.00039},{"T":"50 K","sweep":1,"H":0.2,"rho":0.99939},{"T":"50 K","sweep":1,"H":0.4,"rho":0.99911},{"T":"50 K","sweep":1,"H":1,"rho":0.999},{"T":"50 K","sweep":1,"H":1.5,"rho":0.99889},{"T":"50 K","sweep":1,"H":2,"rho":0.99872},
      {"T":"50 K","sweep":2,"H":-2,"rho":0.99886},{"T":"50 K","sweep":2,"H":-1,"rho":0.99889},{"T":"50 K","sweep":2,"H":-0.5,"rho":0.99894},{"T":"50 K","sweep":2,"H":-0.25,"rho":0.99928},{"T":"50 K","sweep":2,"H":-0.1,"rho":1.00039},{"T":"50 K","sweep":2,"H":0,"rho":1.00139},{"T":"50 K","sweep":2,"H":0.1,"rho":1.00217},{"T":"50 K","sweep":2,"H":0.25,"rho":1.00252},{"T":"50 K","sweep":2,"H":0.4,"rho":1.00217},{"T":"50 K","sweep":2,"H":0.55,"rho":1.00117},{"T":"50 K","sweep":2,"H":0.7,"rho":0.99983},{"T":"50 K","sweep":2,"H":0.85,"rho":0.99911},{"T":"50 K","sweep":2,"H":1,"rho":0.99903},{"T":"50 K","sweep":2,"H":1.5,"rho":0.99889},{"T":"50 K","sweep":2,"H":2,"rho":0.99872}
    ],
    "h_labels": [
      {"label":"50 K","H":1.357,"rho":1.00278},{"label":"30 K","H":1.802,"rho":1.00267},{"label":"4.2 K","H":-1.545,"rho":0.99694},{"label":"10 K","H":-1.149,"rho":0.99694},{"label":"20 K","H":-0.688,"rho":0.99706}
    ],
    "h_tag": [{"label":"(h) L (x=0.33)","H":-1.215,"rho":1.00406}],
    "h_leaders": [
      {"H":1.456,"rho":1.00128,"H2":1.373,"rho2":0.999},{"H":1.818,"rho":1.00139,"H2":1.736,"rho2":0.99856},{"H":-1.149,"rho":0.99728,"H2":-1.479,"rho2":0.99806},{"H":-0.885,"rho":0.99739,"H2":-1.265,"rho2":0.99828},{"H":-1.56,"rho":0.99728,"H2":-1.575,"rho2":0.99756}
    ]
  },
  "spacing": 0,
  "vconcat": [
    {
      "spacing": 12,
      "vconcat": [
        {
          "spacing": 60,
          "hconcat": [
            {
              "width": 505, "height": 271,
              "encoding": {
                "x": {"field": "H", "type": "quantitative", "scale": {"domain": [-0.6, 0.6], "nice": false, "zero": false}, "axis": {"title": "Magnetic Field (T)", "values": [-0.6, -0.45, -0.3, -0.15, 0, 0.15, 0.3, 0.45, 0.6], "labelExpr": "round(datum.value*100) % 30 == 0 ? replace(format(datum.value, '.1f'), '\u2212', '-') : ''"}},
                "y": {"field": "rho", "type": "quantitative", "scale": {"domain": [0.997, 1.001], "nice": false, "zero": false}, "axis": {"title": "ρ(H)/ρ(0)", "values": [0.997, 0.998, 0.999, 1.0, 1.001], "labelExpr": "round(datum.value*1000) % 2 == 1 ? format(datum.value, '.3f') : ''", "minExtent": 123, "maxExtent": 123}}
              },
              "layer": [
                {"data": {"name": "a_curves"}, "mark": {"type": "line", "clip": true}, "encoding": {"color": {"field": "T", "type": "nominal", "scale": {"domain": ["4.2 K", "7 K", "10 K", "20 K", "50 K"], "range": ["#000000", "#ff0000", "#22cc22", "#1a1ad6", "#18e0f0"]}, "legend": null}}},
                {"data": {"name": "a_leaders"}, "mark": {"type": "rule", "color": "#111111", "strokeWidth": 1.3}, "encoding": {"x2": {"field": "H2"}, "y2": {"field": "rho2"}}},
                {"data": {"name": "a_labels"}, "mark": {"type": "text", "fontSize": 20}, "encoding": {"text": {"field": "label"}}},
                {"data": {"name": "a_tag"}, "mark": {"type": "text", "fontSize": 26}, "encoding": {"text": {"field": "label"}}}
              ]
            },
            {
              "width": 505, "height": 270,
              "encoding": {
                "x": {"field": "H", "type": "quantitative", "scale": {"domain": [-6, 6], "nice": false, "zero": false}, "axis": {"title": "Magnetic Field (T)", "values": [-6, -4.5, -3, -1.5, 0, 1.5, 3, 4.5, 6], "labelExpr": "round(datum.value*10) % 30 == 0 ? replace(format(datum.value, 'd'), '\u2212', '-') : ''"}},
                "y": {"field": "rho", "type": "quantitative", "scale": {"domain": [0.995, 1.001], "nice": false, "zero": false}, "axis": {"title": "ρ(H)/ρ(0)", "values": [0.995, 0.996, 0.997, 0.998, 0.999, 1.0, 1.001], "labelExpr": "round(datum.value*1000) % 2 == 1 ? format(datum.value, '.3f') : ''", "minExtent": 77, "maxExtent": 77}}
              },
              "layer": [
                {"data": {"name": "b_curves"}, "mark": {"type": "line", "clip": true}, "encoding": {"color": {"field": "T", "type": "nominal", "scale": {"domain": ["4.2 K", "8 K", "10 K", "20 K", "50 K"], "range": ["#000000", "#ff0000", "#22cc22", "#1a1ad6", "#18e0f0"]}, "legend": null}}},
                {"data": {"name": "b_leaders"}, "mark": {"type": "rule", "color": "#111111", "strokeWidth": 1.3}, "encoding": {"x2": {"field": "H2"}, "y2": {"field": "rho2"}}},
                {"data": {"name": "b_labels"}, "mark": {"type": "text", "fontSize": 20}, "encoding": {"text": {"field": "label"}}},
                {"data": {"name": "b_tag"}, "mark": {"type": "text", "fontSize": 26}, "encoding": {"text": {"field": "label"}}}
              ]
            }
          ]
        },
        {
          "spacing": 68,
          "hconcat": [
            {
              "width": 505, "height": 270,
              "encoding": {
                "x": {"field": "H", "type": "quantitative", "scale": {"domain": [-6, 6], "nice": false, "zero": false}, "axis": {"title": "Magnetic Field (T)", "values": [-6, -4.5, -3, -1.5, 0, 1.5, 3, 4.5, 6], "labelExpr": "round(datum.value*10) % 30 == 0 ? replace(format(datum.value, 'd'), '\u2212', '-') : ''"}},
                "y": {"field": "rho", "type": "quantitative", "scale": {"domain": [0.99, 1.02], "nice": false, "zero": false}, "axis": {"title": "ρ(H)/ρ(0)", "values": [0.99, 0.995, 1.0, 1.005, 1.01, 1.015, 1.02], "labelExpr": "round(datum.value*1000) % 10 == 0 ? format(datum.value, '.3f') : ''", "minExtent": 111, "maxExtent": 111}}
              },
              "layer": [
                {"data": {"name": "c_curves"}, "mark": {"type": "line", "clip": true}, "encoding": {"color": {"field": "T", "type": "nominal", "scale": {"domain": ["4.2 K", "7 K", "10 K", "20 K", "50 K"], "range": ["#000000", "#ff0000", "#22cc22", "#1a1ad6", "#18e0f0"]}, "legend": null}, "detail": {"field": "sweep", "type": "nominal"}}},
                {"data": {"name": "c_leaders"}, "mark": {"type": "rule", "color": "#111111", "strokeWidth": 1.3}, "encoding": {"x2": {"field": "H2"}, "y2": {"field": "rho2"}}},
                {"data": {"name": "c_labels"}, "mark": {"type": "text", "fontSize": 20}, "encoding": {"text": {"field": "label"}}},
                {"data": {"name": "c_tag"}, "mark": {"type": "text", "fontSize": 26}, "encoding": {"text": {"field": "label"}}}
              ]
            },
            {
              "width": 506, "height": 270,
              "encoding": {
                "x": {"field": "H", "type": "quantitative", "scale": {"domain": [-6, 6], "nice": false, "zero": false}, "axis": {"title": "Magnetic Field (T)", "values": [-6, -4.5, -3, -1.5, 0, 1.5, 3, 4.5, 6], "labelExpr": "round(datum.value*10) % 30 == 0 ? replace(format(datum.value, 'd'), '\u2212', '-') : ''"}},
                "y": {"field": "rho", "type": "quantitative", "scale": {"domain": [0.994, 1.01], "nice": false, "zero": false}, "axis": {"title": "ρ(H)/ρ(0)", "values": [0.995, 0.9975, 1.0, 1.0025, 1.005, 1.0075, 1.01], "labelExpr": "round(datum.value*10000) % 50 == 0 ? format(datum.value, '.3f') : ''", "minExtent": 85, "maxExtent": 85}}
              },
              "layer": [
                {"data": {"name": "d_curves"}, "mark": {"type": "line", "clip": true}, "encoding": {"color": {"field": "T", "type": "nominal", "scale": {"domain": ["4.2 K", "7 K", "10 K", "20 K", "50 K"], "range": ["#000000", "#ff0000", "#22cc22", "#1a1ad6", "#18e0f0"]}, "legend": null}}},
                {"data": {"name": "d_leaders"}, "mark": {"type": "rule", "color": "#111111", "strokeWidth": 1.3}, "encoding": {"x2": {"field": "H2"}, "y2": {"field": "rho2"}}},
                {"data": {"name": "d_labels"}, "mark": {"type": "text", "fontSize": 20}, "encoding": {"text": {"field": "label"}}},
                {"data": {"name": "d_tag"}, "mark": {"type": "text", "fontSize": 26}, "encoding": {"text": {"field": "label"}}}
              ]
            }
          ]
        }
      ]
    },
    {
      "spacing": 20,
      "vconcat": [
        {
          "spacing": 78,
          "hconcat": [
            {
              "width": 505, "height": 270,
              "layer": [
                {
                  "encoding": {
                    "x": {"field": "H", "type": "quantitative", "scale": {"domain": [-6, 6], "nice": false, "zero": false}, "axis": {"orient": "bottom", "title": "Magnetic Field (T)", "values": [-6, -4.5, -3, -1.5, 0, 1.5, 3, 4.5, 6], "labelExpr": "round(datum.value*10) % 30 == 0 ? replace(format(datum.value, 'd'), '\u2212', '-') : ''"}},
                    "y": {"field": "rho", "type": "quantitative", "scale": {"domain": [0.98, 1.04], "nice": false, "zero": false}, "axis": {"orient": "left", "title": "ρ(H)/ρ(0)", "values": [0.98, 0.99, 1.0, 1.01, 1.02, 1.03, 1.04], "labelExpr": "round(datum.value*100) % 2 == 0 ? format(datum.value, '.2f') : ''", "minExtent": 85, "maxExtent": 85}}
                  },
                  "layer": [
                    {"data": {"name": "e_curves"}, "mark": {"type": "line", "clip": true}, "encoding": {"color": {"field": "T", "type": "nominal", "scale": {"domain": ["4.2 K", "7 K", "10 K", "20 K", "50 K"], "range": ["#000000", "#ff0000", "#22cc22", "#1a1ad6", "#18e0f0"]}, "legend": null}}},
                    {"data": {"name": "e_leaders"}, "mark": {"type": "rule", "color": "#111111", "strokeWidth": 1.3}, "encoding": {"x2": {"field": "H2"}, "y2": {"field": "rho2"}}},
                    {"data": {"name": "e_labels"}, "mark": {"type": "text", "fontSize": 20}, "encoding": {"text": {"field": "label"}}},
                    {"data": {"name": "e_tag"}, "mark": {"type": "text", "fontSize": 26}, "encoding": {"text": {"field": "label"}}}
                  ]
                },
                {
                  "encoding": {
                    "x": {"field": "H", "type": "quantitative", "scale": {"domain": [-1, 1], "range": [218, 365], "nice": false, "zero": false}, "axis": {"orient": "bottom", "offset": -165, "title": "Magnetic Field (T)", "titleFontSize": 21, "labelFontSize": 19, "tickSize": -4, "labelPadding": 10, "minExtent": 39, "maxExtent": 39, "zindex": 2, "values": [-1, -0.5, 0, 0.5, 1], "labelExpr": "round(datum.value*10) % 10 == 0 ? replace(format(datum.value, 'd'), '\u2212', '-') : ''"}},
                    "y": {"field": "rho", "type": "quantitative", "scale": {"domain": [0.999, 1.001], "range": [105, 19], "nice": false, "zero": false}, "axis": {"orient": "left", "offset": -218, "title": "ρ(H)/ρ(0)", "titleFontSize": 20, "labelFontSize": 19, "tickSize": -4, "labelPadding": 9, "minExtent": 70, "maxExtent": 70, "zindex": 2, "values": [0.999, 0.9995, 1.0, 1.0005, 1.001], "labelExpr": "round(datum.value*10000) % 10 == 0 ? format(datum.value, '.3f') : ''"}}
                  },
                  "layer": [
                    {"data": {"name": "e_inset_box"}, "mark": {"type": "rect", "fill": "#ffffff", "stroke": "#555555", "strokeWidth": 1.2}, "encoding": {"x2": {"field": "H2"}, "y2": {"field": "rho2"}}},
                    {"data": {"name": "e_inset"}, "mark": {"type": "line", "color": "#555555", "strokeWidth": 1.4, "interpolate": "linear"}, "encoding": {"detail": {"field": "sweep", "type": "nominal"}}}
                  ]
                }
              ],
              "resolve": {"scale": {"x": "independent", "y": "independent"}}
            },
            {
              "width": 505, "height": 268,
              "encoding": {
                "x": {"field": "H", "type": "quantitative", "scale": {"domain": [-2, 2], "nice": false, "zero": false}, "axis": {"title": "Magnetic Field (T)", "values": [-2, -1.5, -1, -0.5, 0, 0.5, 1, 1.5, 2], "labelExpr": "round(datum.value*10) % 10 == 0 ? replace(format(datum.value, 'd'), '\u2212', '-') : ''"}},
                "y": {"field": "rho", "type": "quantitative", "scale": {"domain": [0.995, 1.001], "nice": false, "zero": false}, "axis": {"title": "ρ(H)/ρ(0)", "values": [0.995, 0.996, 0.997, 0.998, 0.999, 1.0, 1.001], "labelExpr": "round(datum.value*1000) % 2 == 1 ? format(datum.value, '.3f') : ''", "minExtent": 89, "maxExtent": 89}}
              },
              "layer": [
                {"data": {"name": "f_curves"}, "mark": {"type": "line", "clip": true}, "encoding": {"color": {"field": "T", "type": "nominal", "scale": {"domain": ["4.2 K", "8 K", "10 K", "20 K", "50 K"], "range": ["#000000", "#ff0000", "#22cc22", "#1a1ad6", "#18e0f0"]}, "legend": null}, "detail": {"field": "sweep", "type": "nominal"}}},
                {"data": {"name": "f_leaders"}, "mark": {"type": "rule", "color": "#111111", "strokeWidth": 1.3}, "encoding": {"x2": {"field": "H2"}, "y2": {"field": "rho2"}}},
                {"data": {"name": "f_labels"}, "mark": {"type": "text", "fontSize": 20}, "encoding": {"text": {"field": "label"}}},
                {"data": {"name": "f_tag"}, "mark": {"type": "text", "fontSize": 26}, "encoding": {"text": {"field": "label"}}}
              ]
            }
          ]
        },
        {
          "spacing": 67,
          "hconcat": [
            {
              "width": 505, "height": 270,
              "encoding": {
                "x": {"field": "H", "type": "quantitative", "scale": {"domain": [-2, 2], "nice": false, "zero": false}, "axis": {"title": "Magnetic Field (T)", "values": [-2, -1.5, -1, -0.5, 0, 0.5, 1, 1.5, 2], "labelExpr": "round(datum.value*10) % 10 == 0 ? replace(format(datum.value, 'd'), '\u2212', '-') : ''"}},
                "y": {"field": "rho", "type": "quantitative", "scale": {"domain": [0.997, 1.001], "nice": false, "zero": false}, "axis": {"title": "ρ(H)/ρ(0)", "values": [0.997, 0.998, 0.999, 1.0, 1.001], "labelExpr": "round(datum.value*1000) % 2 == 1 ? format(datum.value, '.3f') : ''", "minExtent": 101, "maxExtent": 101}}
              },
              "layer": [
                {"data": {"name": "g_curves"}, "mark": {"type": "line", "clip": true}, "encoding": {"color": {"field": "T", "type": "nominal", "scale": {"domain": ["4.2 K", "10 K", "20 K", "30 K", "50 K"], "range": ["#000000", "#ff0000", "#22cc22", "#1a1ad6", "#18e0f0"]}, "legend": null}, "detail": {"field": "sweep", "type": "nominal"}}},
                {"data": {"name": "g_leaders"}, "mark": {"type": "rule", "color": "#111111", "strokeWidth": 1.3}, "encoding": {"x2": {"field": "H2"}, "y2": {"field": "rho2"}}},
                {"data": {"name": "g_labels"}, "mark": {"type": "text", "fontSize": 20}, "encoding": {"text": {"field": "label"}}},
                {"data": {"name": "g_tag"}, "mark": {"type": "text", "fontSize": 26}, "encoding": {"text": {"field": "label"}}}
              ]
            },
            {
              "width": 505, "height": 270,
              "encoding": {
                "x": {"field": "H", "type": "quantitative", "scale": {"domain": [-2, 2], "nice": false, "zero": false}, "axis": {"title": "Magnetic Field (T)", "values": [-2, -1.5, -1, -0.5, 0, 0.5, 1, 1.5, 2], "labelExpr": "round(datum.value*10) % 10 == 0 ? replace(format(datum.value, 'd'), '\u2212', '-') : ''"}},
                "y": {"field": "rho", "type": "quantitative", "scale": {"domain": [0.996, 1.005], "nice": false, "zero": false}, "axis": {"title": "ρ(H)/ρ(0)", "values": [0.996, 0.9975, 0.999, 1.0005, 1.002, 1.0035, 1.005], "labelExpr": "round(datum.value*10000) % 30 == 0 ? format(datum.value, '.3f') : ''", "minExtent": 101, "maxExtent": 101}}
              },
              "layer": [
                {"data": {"name": "h_curves"}, "mark": {"type": "line", "clip": true}, "encoding": {"color": {"field": "T", "type": "nominal", "scale": {"domain": ["4.2 K", "10 K", "20 K", "30 K", "50 K"], "range": ["#000000", "#ff0000", "#22cc22", "#1a1ad6", "#18e0f0"]}, "legend": null}, "detail": {"field": "sweep", "type": "nominal"}}},
                {"data": {"name": "h_leaders"}, "mark": {"type": "rule", "color": "#111111", "strokeWidth": 1.3}, "encoding": {"x2": {"field": "H2"}, "y2": {"field": "rho2"}}},
                {"data": {"name": "h_labels"}, "mark": {"type": "text", "fontSize": 20}, "encoding": {"text": {"field": "label"}}},
                {"data": {"name": "h_tag"}, "mark": {"type": "text", "fontSize": 26}, "encoding": {"text": {"field": "label"}}}
              ]
            }
          ]
        }
      ]
    }
  ]
}
